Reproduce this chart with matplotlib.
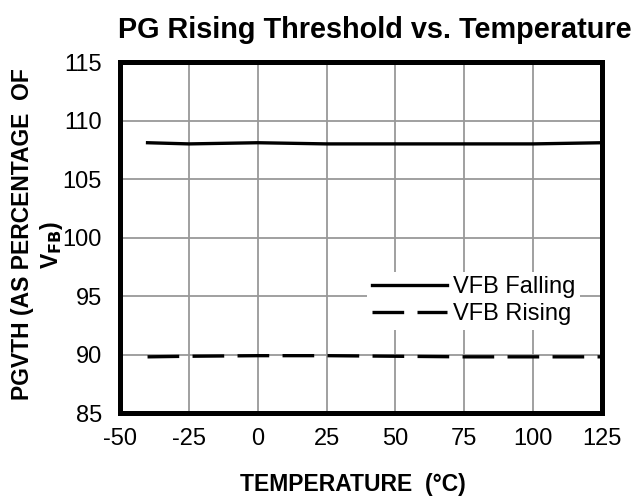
import matplotlib
matplotlib.use('Agg')
import matplotlib.pyplot as plt

plt.rcParams['font.family'] = ['Liberation Sans', 'DejaVu Sans']
plt.rcParams['axes.unicode_minus'] = False

# Dane
temperatura = [-40, -25, 0, 25, 50, 75, 100, 125]
vfb_falling = [108.1, 108.0, 108.1, 108.0, 108.0, 108.0, 108.0, 108.1]
vfb_rising = [89.8, 89.85, 89.9, 89.9, 89.85, 89.8, 89.8, 89.8]

x_ticks = [-50, -25, 0, 25, 50, 75, 100, 125]
y_ticks = [85, 90, 95, 100, 105, 110, 115]

fig = plt.figure(figsize=(6.39, 4.98), dpi=100)
ax = fig.add_axes([120 / 639, 85 / 498, 482 / 639, 351 / 498])

ax.plot(temperatura, vfb_falling, color='black', linewidth=2.4, label='VFB Falling')
ax.plot(temperatura, vfb_rising, color='black', linewidth=2.4, dashes=(9.5, 4),
        dash_capstyle='butt', label='VFB Rising')

ax.set_xlim(-50, 125)
ax.set_ylim(85, 115)
ax.set_xticks(x_ticks)
ax.set_yticks(y_ticks)
ax.tick_params(axis='y', length=0, labelsize=17, pad=13)
ax.tick_params(axis='x', length=0, labelsize=17, pad=11)
ax.grid(True, color='#999999', linewidth=1.3)
ax.set_axisbelow(True)
for s in ax.spines.values():
    s.set_linewidth(3.6)
    s.set_color('black')

ax.set_title('PG Rising Threshold vs. Temperature', fontsize=20.8, fontweight='bold',
             x=0.528, pad=17)
ax.set_xlabel('TEMPERATURE  (°C)', fontsize=16.5, fontweight='bold')
ax.xaxis.set_label_coords(0.483, -0.17)

# Etykieta osi Y w dwóch liniach (druga linia przesunięta w dół jak w oryginale)
ax.set_ylabel('PGVTH (AS PERCENTAGE  OF', fontsize=16.5, fontweight='bold')
ax.yaxis.set_label_coords(-0.178, 0.51)
ax.text(-0.142, 0.478, 'V$_{\\mathbf{FB}}$)', transform=ax.transAxes, rotation=90,
        ha='center', va='center', fontsize=16.5, fontweight='bold')

leg = ax.legend(loc='center right', bbox_to_anchor=(0.955, 0.32), frameon=True,
                fontsize=17, handlelength=3.2, handletextpad=0.25,
                borderpad=0.2, labelspacing=0.2, borderaxespad=0)
leg.get_frame().set_edgecolor('none')
leg.get_frame().set_facecolor('white')
leg.get_frame().set_alpha(1)

fig.savefig('out.png', dpi=100)
